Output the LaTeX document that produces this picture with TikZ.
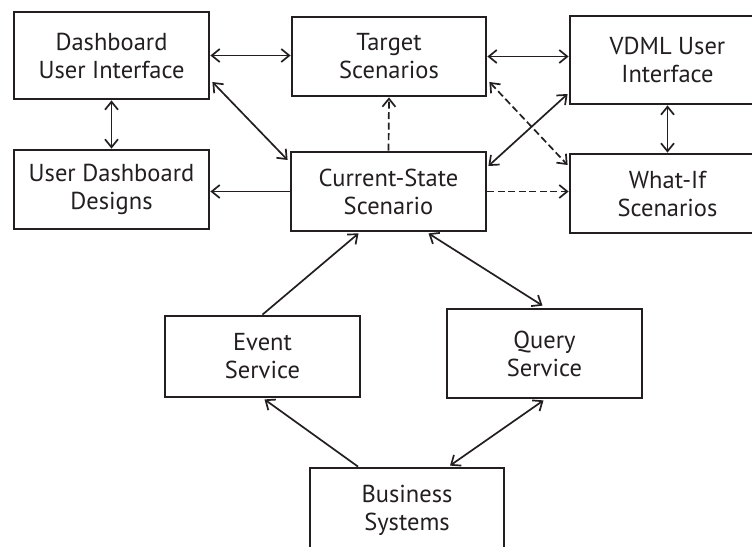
\documentclass[tikz,border=0pt]{standalone}
\usepackage{fontspec}
\setmainfont{PT Sans}
\usetikzlibrary{arrows.meta,calc}
\definecolor{ink}{HTML}{231F20}
\begin{document}
\begin{tikzpicture}[x=1pt,y=-1pt,
  box/.style={draw=ink,line width=2.8pt,fill=white,align=center,text=ink,
    font=\fontsize{24.5}{28}\selectfont,minimum width=195pt,inner sep=0pt},
  link/.style={draw=ink,line width=1.7pt},
  tip/.style={-{Straight Barb[length=8pt,width=13pt,line width=1.7pt]}},
  both/.style={{Straight Barb[length=8pt,width=13pt,line width=1.7pt]}-{Straight Barb[length=8pt,width=13pt,line width=1.7pt]}},
  dashlink/.style={dash pattern=on 7pt off 3.5pt}]
\useasboundingbox (0,0) rectangle (752,546);
\clip (0,0) rectangle (752,546);
% top row
\node[box,minimum height=87pt] (dui) at (111.5,55.5) {Dashboard\\User Interface};
\node[box,minimum width=194pt,minimum height=79pt] (tgt) at (389,56.5) {Target\\Scenarios};
\node[box,minimum height=88pt] (vdml) at (667.5,60) {VDML User\\Interface};
% middle row
\node[box,minimum height=79pt] (udd) at (111.5,189.5) {User Dashboard\\Designs};
\node[box,minimum height=79pt] (cur) at (388.5,191.5) {Current-State\\Scenario};
\node[box,minimum height=79pt] (wif) at (667.5,193.5) {What-If\\Scenarios};
% services
\node[box,minimum height=81pt] (evt) at (262.5,356.5) {Event\\Service};
\node[box,minimum height=89pt] (qry) at (544.5,353.5) {Query\\Service};
% source systems
\node[box,minimum width=194pt,minimum height=84pt] (bus) at (407,510) {Business\\Systems};

% solid connectors
\draw[link,both] (dui.east) -- (dui.east -| tgt.west);
\draw[link,both] (tgt.east) -- (tgt.east -| vdml.west);
\draw[link,both] (dui.south) -- (udd.north);
\draw[link,both] ($(dui.east)+(2,26.5)$) -- ($(cur.west)+(-2,-31.5)$);
\draw[link,tip] (cur.west) -- (cur.west -| udd.east);
\draw[link,both] ($(vdml.west)+(-1,34)$) -- ($(cur.east)+(1,-25.5)$);
\draw[link,both] (vdml.south) -- (wif.north);
\draw[link,tip] (evt.north) -- ($(cur.south)+(-30,1)$);
\draw[link,both] ($(cur.south)+(40,1)$) -- ($(qry.north)+(-2,-2)$);
\draw[link,tip] ($(bus.north)+(-49,0)$) -- ($(evt.south)+(2,1)$);
\draw[link,both] ($(qry.south)+(-1,1)$) -- ($(bus.north)+(43,-1)$);

% dashed connectors
\draw[link,dashlink,tip] (cur.north) -- (tgt.south);
\draw[link,dashlink,both] ($(tgt.east)+(2,25.5)$) -- ($(wif.west)+(-1,-28.5)$);
\draw[link,dashlink,tip] (cur.east) -- (cur.east -| wif.west);
\end{tikzpicture}
\end{document}
